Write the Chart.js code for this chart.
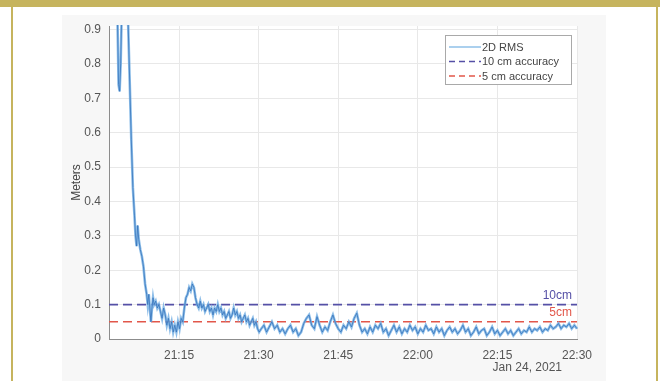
<!DOCTYPE html>
<html>
<head>
<meta charset="utf-8">
<script src="https://cdn.jsdelivr.net/npm/chart.js@4/dist/chart.umd.min.js"></script>
<style>
  html, body { margin: 0; padding: 0; background: #ffffff; }
  body { width: 660px; height: 381px; position: relative; overflow: hidden; }
  .gold { position: absolute; background: #c6b45e; }
  #frameTop { left: 0; top: 0; width: 660px; height: 7px; }
  #frameLeft { left: 11px; top: 0; width: 2px; height: 381px; }
  #frameRight { left: 656px; top: 0; width: 2px; height: 381px; }
  #figure { position: absolute; left: 62px; top: 15px; width: 544px; height: 366px; background: #f7f7f7; }
  #wrap { position: absolute; left: 0; top: 0; width: 660px; height: 381px; }
</style>
</head>
<body>
<div class="gold" id="frameTop"></div>
<div class="gold" id="frameLeft"></div>
<div class="gold" id="frameRight"></div>
<div id="figure"></div>
<div id="wrap"><canvas id="chart" width="660" height="381"></canvas></div>
<script>
// Minutes after 21:00 on the session day
const minutes = [
  3.4, 3.6, 3.8, 4.0, 4.2, 4.5, 5.0, 5.4, 5.7, 6.0, 6.3, 6.6, 6.8, 7.0, 7.2, 7.4, 7.7, 8.0, 8.3, 8.6,
  8.9, 9.1, 9.3, 9.5, 9.7, 9.9, 10.1, 10.3, 10.6, 10.9, 11.2, 11.5, 11.8, 12.1, 12.4, 12.7, 13.0, 13.3, 13.6, 13.9,
  14.2, 14.5, 14.8, 15.1, 15.4, 15.7, 16.0, 16.3, 16.6, 16.9, 17.2, 17.5, 17.8, 18.1, 18.4, 18.7, 19.0, 19.3, 19.6, 19.9,
  20.2, 20.5, 20.8, 21.1, 21.4, 21.7, 22.0, 22.3, 22.6, 22.9, 23.2, 23.5, 23.8, 24.1, 24.4, 24.7, 25.0, 25.3, 25.6, 25.9,
  26.2, 26.5, 26.8, 27.1, 27.4, 27.7, 28.0, 28.3, 28.6, 28.9, 29.2, 29.5, 29.8, 30.1,
  30.5, 31.0, 31.5, 32.0, 32.5, 33.0, 33.5, 34.0, 34.5, 35.0, 35.5, 36.0, 36.5, 37.0, 37.5, 38.0, 38.5, 39.0, 39.5, 40.0,
  40.5, 41.0, 41.5, 42.0, 42.5, 43.0, 43.5, 44.0, 44.5, 45.0, 45.5, 46.0, 46.5, 47.0, 47.5, 48.0, 48.5, 49.0, 49.5, 50.0,
  50.5, 51.0, 51.5, 52.0, 52.5, 53.0, 53.5, 54.0, 54.5, 55.0, 55.5, 56.0, 56.5, 57.0, 57.5, 58.0, 58.5, 59.0, 59.5, 60.0,
  60.5, 61.0, 61.5, 62.0, 62.5, 63.0, 63.5, 64.0, 64.5, 65.0, 65.5, 66.0, 66.5, 67.0, 67.5, 68.0, 68.5, 69.0, 69.5, 70.0,
  70.5, 71.0, 71.5, 72.0, 72.5, 73.0, 73.5, 74.0, 74.5, 75.0, 75.5, 76.0, 76.5, 77.0, 77.5, 78.0, 78.5, 79.0, 79.5, 80.0,
  80.5, 81.0, 81.5, 82.0, 82.5, 83.0, 83.5, 84.0, 84.5, 85.0, 85.5, 86.0, 86.5, 87.0, 87.5, 88.0, 88.5, 89.0, 89.5, 90.0
];

// 2D RMS position error, metres
const rms2d = [
  0.93, 0.74, 0.72, 0.80, 0.95, 1.10, 1.05, 0.92, 0.75, 0.58, 0.44, 0.36, 0.30, 0.27, 0.33, 0.29, 0.26, 0.24, 0.21, 0.16,
  0.13, 0.10, 0.13, 0.09, 0.05, 0.09, 0.12, 0.10, 0.11, 0.09, 0.10, 0.08, 0.06, 0.09, 0.07, 0.04, 0.06, 0.03, 0.05, 0.02,
  0.04, 0.02, 0.05, 0.03, 0.06, 0.05, 0.09, 0.12, 0.13, 0.15, 0.14, 0.16, 0.15, 0.12, 0.10, 0.09, 0.11, 0.09, 0.10, 0.08,
  0.09, 0.10, 0.08, 0.09, 0.07, 0.09, 0.08, 0.10, 0.08, 0.09, 0.07, 0.08, 0.06, 0.07, 0.08, 0.06, 0.07, 0.09, 0.07, 0.08,
  0.06, 0.07, 0.05, 0.06, 0.07, 0.05, 0.06, 0.04, 0.05, 0.06, 0.04, 0.05, 0.03, 0.02,
  0.03, 0.04, 0.02, 0.035, 0.05, 0.03, 0.04, 0.02, 0.03, 0.015, 0.03, 0.04, 0.02, 0.03, 0.01, 0.02, 0.045, 0.06, 0.07, 0.04,
  0.03, 0.065, 0.04, 0.02, 0.035, 0.025, 0.05, 0.07, 0.045, 0.03, 0.02, 0.04, 0.03, 0.05, 0.035, 0.06, 0.075, 0.04, 0.02, 0.03,
  0.015, 0.035, 0.02, 0.04, 0.03, 0.045, 0.02, 0.03, 0.01, 0.025, 0.04, 0.02, 0.035, 0.015, 0.03, 0.02, 0.04, 0.025, 0.035, 0.015,
  0.03, 0.02, 0.04, 0.025, 0.03, 0.015, 0.035, 0.02, 0.03, 0.01, 0.025, 0.035, 0.02, 0.03, 0.015, 0.025, 0.04, 0.02, 0.03, 0.01,
  0.02, 0.035, 0.015, 0.025, 0.03, 0.01, 0.02, 0.035, 0.015, 0.025, 0.01, 0.02, 0.03, 0.015, 0.025, 0.01, 0.02, 0.03, 0.015, 0.025,
  0.02, 0.035, 0.02, 0.03, 0.025, 0.035, 0.02, 0.03, 0.025, 0.04, 0.03, 0.035, 0.045, 0.03, 0.04, 0.035, 0.045, 0.03, 0.04, 0.03
];

// Accuracy thresholds drawn across the whole session
const limitSpan = [1.8, 90];
const tenCmLimit = [0.1, 0.1];
const fiveCmLimit = [0.05, 0.05];

// Axis ticks
const xTickMinutes = [15, 30, 45, 60, 75, 90];
const xTickLabels = ['21:15', '21:30', '21:45', '22:00', '22:15', '22:30'];
const yTickValues = [0, 0.1, 0.2, 0.3, 0.4, 0.5, 0.6, 0.7, 0.8, 0.9];
const yTickLabels = ['0', '0.1', '0.2', '0.3', '0.4', '0.5', '0.6', '0.7', '0.8', '0.9'];
const dateLabel = 'Jan 24, 2021';

const seriesNames = ['2D RMS', '10 cm accuracy', '5 cm accuracy'];
const limitTags = ['10cm', '5cm'];

const FONT = '"Liberation Sans", Arial, sans-serif';
const BLUE_LIGHT = 'rgba(120,178,228,0.85)';
const BLUE_DARK = '#3674bb';
const PURPLE = '#5550a6';
const RED = '#e2574a';

const rmsPoints = minutes.map((m, i) => ({ x: m, y: rms2d[i] }));
const tenPoints = limitSpan.map((m, i) => ({ x: m, y: tenCmLimit[i] }));
const fivePoints = limitSpan.map((m, i) => ({ x: m, y: fiveCmLimit[i] }));

const plotBackground = {
  id: 'plotBackground',
  beforeDraw(chart) {
    const { ctx, chartArea: a } = chart;
    ctx.save();
    ctx.fillStyle = '#ffffff';
    ctx.fillRect(a.left, a.top, a.right - a.left, a.bottom - a.top);
    ctx.restore();
  }
};

const annotations = {
  id: 'annotations',
  afterDraw(chart) {
    const { ctx } = chart;
    const xs = chart.scales.x, ys = chart.scales.y;
    ctx.save();
    // threshold tags at the right end
    ctx.font = '12px ' + FONT;
    ctx.textAlign = 'right';
    ctx.textBaseline = 'bottom';
    ctx.fillStyle = PURPLE;
    ctx.fillText(limitTags[0], xs.right - 5, ys.getPixelForValue(tenCmLimit[1]) - 3);
    ctx.fillStyle = RED;
    ctx.fillText(limitTags[1], xs.right - 5, ys.getPixelForValue(fiveCmLimit[1]) - 3);

    // date under the time axis
    ctx.fillStyle = '#555555';
    ctx.textBaseline = 'middle';
    ctx.fillText(dateLabel, xs.right - 15, 368);

    // legend box
    const bx = 445.5, by = 35.5, bw = 126, bh = 49;
    ctx.fillStyle = '#ffffff';
    ctx.fillRect(bx, by, bw, bh);
    ctx.strokeStyle = '#a9a9a9';
    ctx.lineWidth = 1;
    ctx.strokeRect(bx, by, bw, bh);
    const rows = [47, 61.5, 76];
    const styles = [
      { color: '#8fc0e8', dash: [] },
      { color: PURPLE, dash: [6, 4] },
      { color: RED, dash: [6, 4] }
    ];
    ctx.font = '11px ' + FONT;
    ctx.textAlign = 'left';
    ctx.textBaseline = 'middle';
    rows.forEach((ry, i) => {
      ctx.beginPath();
      ctx.setLineDash(styles[i].dash);
      ctx.strokeStyle = styles[i].color;
      ctx.lineWidth = 1.5;
      ctx.moveTo(449, ry);
      ctx.lineTo(481, ry);
      ctx.stroke();
      ctx.setLineDash([]);
      ctx.fillStyle = '#444444';
      ctx.fillText(seriesNames[i], 482, ry + 0.5);
    });
    ctx.restore();
  }
};

new Chart(document.getElementById('chart'), {
  type: 'line',
  data: {
    datasets: [
      {
        label: seriesNames[0],
        data: rmsPoints,
        borderColor: BLUE_DARK,
        borderWidth: 0.8,
        pointRadius: 0,
        tension: 0,
        clip: 1
      },
      {
        label: seriesNames[0] + ' band',
        data: rmsPoints,
        borderColor: BLUE_LIGHT,
        borderWidth: 2.6,
        pointRadius: 0,
        tension: 0,
        clip: 1
      },
      {
        label: seriesNames[1],
        data: tenPoints,
        borderColor: PURPLE,
        borderWidth: 1.8,
        borderDash: [9, 5],
        pointRadius: 0
      },
      {
        label: seriesNames[2],
        data: fivePoints,
        borderColor: RED,
        borderWidth: 1.6,
        borderDash: [9, 5],
        pointRadius: 0
      }
    ]
  },
  options: {
    responsive: false,
    animation: false,
    events: [],
    layout: { padding: { left: 65, right: 83, top: 26, bottom: 0 } },
    plugins: { legend: { display: false }, tooltip: { enabled: false } },
    scales: {
      x: {
        type: 'linear',
        min: limitSpan[0],
        max: limitSpan[1],
        afterFit(scale) { scale.height = 42; },
        afterBuildTicks(scale) { scale.ticks = xTickMinutes.map(v => ({ value: v })); },
        ticks: {
          padding: 9,
          color: '#555555',
          font: { family: FONT, size: 12 },
          maxRotation: 0,
          autoSkip: false,
          callback: (v) => xTickLabels[xTickMinutes.indexOf(v)]
        },
        grid: { color: '#e8e8e8', drawTicks: false },
        border: { color: '#8c8c8c', width: 1 }
      },
      y: {
        type: 'linear',
        min: 0,
        max: 0.91,
        afterFit(scale) { scale.width = 44; },
        afterBuildTicks(scale) { scale.ticks = yTickValues.map(v => ({ value: v })); },
        ticks: {
          padding: 8,
          color: '#555555',
          font: { family: FONT, size: 12 },
          autoSkip: false,
          callback: (v) => yTickLabels[yTickValues.indexOf(v)]
        },
        grid: { color: '#e8e8e8', drawTicks: false },
        border: { color: '#8c8c8c', width: 1 },
        title: {
          display: true,
          text: 'Meters',
          color: '#444444',
          font: { family: FONT, size: 12 },
          padding: { top: 4, bottom: 4 }
        }
      }
    }
  },
  plugins: [plotBackground, annotations]
});
</script>
</body>
</html>
